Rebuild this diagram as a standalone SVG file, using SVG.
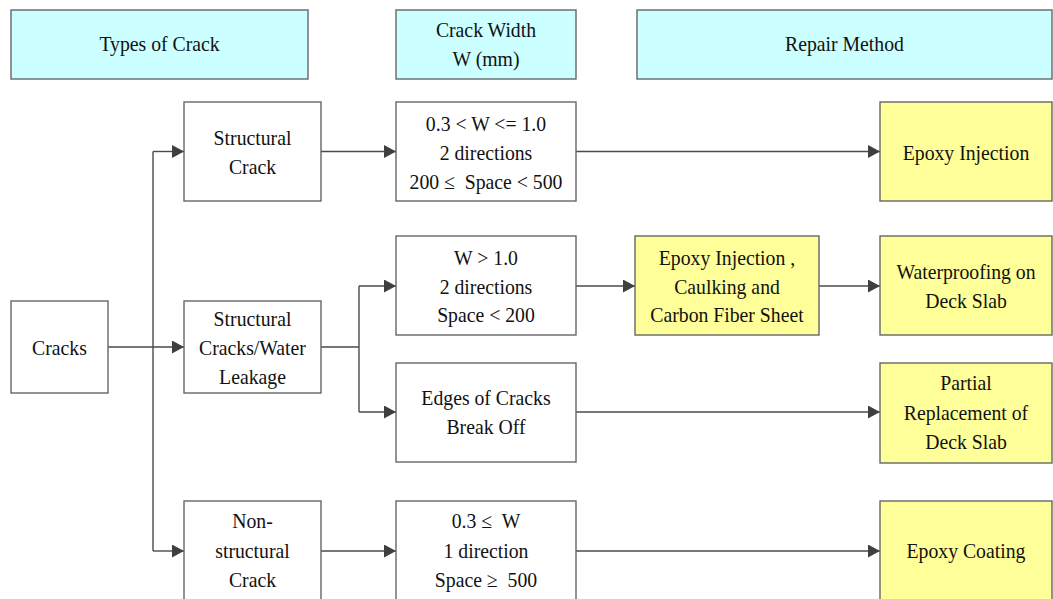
<svg xmlns="http://www.w3.org/2000/svg" width="1053" height="599" viewBox="0 0 1053 599">
  <defs>
    <marker id="arrow" markerUnits="userSpaceOnUse" markerWidth="12" markerHeight="13" refX="12" refY="6.5" orient="auto">
      <path d="M0,0 L12,6.5 L0,13 z" fill="#3f3f3f"/>
    </marker>
    <style>
      .box { stroke: #666666; stroke-width: 1.4; }
      .hdr { fill: #ccffff; }
      .plain { fill: #ffffff; }
      .repair { fill: #ffff99; }
      text { font-family: "Liberation Serif", "Times New Roman", serif; font-size: 21px; fill: #111111; text-anchor: middle;
             transform-box: fill-box; transform-origin: center; transform: scaleX(0.94); }
      .conn path { fill: none; stroke: #4a4a4a; stroke-width: 1.4; }
      .conn path.arr { marker-end: url(#arrow); }
    </style>
  </defs>

  <rect width="1053" height="599" fill="#ffffff"/>

  <!-- column headers -->
  <g id="hdr-types">
    <rect class="box hdr" x="11" y="10" width="297" height="69"/>
    <text x="159.5" y="51">Types of Crack</text>
  </g>
  <g id="hdr-width">
    <rect class="box hdr" x="396" y="10" width="180" height="69"/>
    <text x="486" y="37">Crack Width</text>
    <text x="486" y="66">W (mm)</text>
  </g>
  <g id="hdr-repair">
    <rect class="box hdr" x="637" y="10" width="415" height="69"/>
    <text x="844.5" y="51">Repair Method</text>
  </g>

  <!-- connectors -->
  <g id="connectors" class="conn">
    <path d="M108,347 H184" class="arr"/>
    <path d="M153,151.5 V551"/>
    <path d="M153,151.5 H184" class="arr"/>
    <path d="M153,551 H184" class="arr"/>
    <path d="M321,151.5 H396" class="arr"/>
    <path d="M576,151.5 H880" class="arr"/>
    <path d="M321,347 H359 M359,286 V412"/>
    <path d="M359,286 H396" class="arr"/>
    <path d="M359,412 H396" class="arr"/>
    <path d="M576,286 H635" class="arr"/>
    <path d="M819,286 H880" class="arr"/>
    <path d="M576,412 H880" class="arr"/>
    <path d="M321,551 H396" class="arr"/>
    <path d="M576,551 H880" class="arr"/>
  </g>

  <!-- crack categories -->
  <g id="cracks">
    <rect class="box plain" x="11" y="301" width="97" height="92"/>
    <text x="59.5" y="355">Cracks</text>
  </g>
  <g id="structural">
    <rect class="box plain" x="184" y="102" width="137" height="99"/>
    <text x="252.5" y="145">Structural</text>
    <text x="252.5" y="174">Crack</text>
  </g>
  <g id="structural-water">
    <rect class="box plain" x="184" y="301" width="137" height="92"/>
    <text x="252.5" y="326">Structural</text>
    <text x="252.5" y="355">Cracks/Water</text>
    <text x="252.5" y="384">Leakage</text>
  </g>
  <g id="non-structural">
    <rect class="box plain" x="184" y="501" width="137" height="100"/>
    <text x="252.5" y="528">Non-</text>
    <text x="252.5" y="558">structural</text>
    <text x="252.5" y="587">Crack</text>
  </g>

  <!-- crack width conditions -->
  <g id="width-mid">
    <rect class="box plain" x="396" y="102" width="180" height="99"/>
    <text x="486" y="131">0.3 &lt; W &lt;= 1.0</text>
    <text x="486" y="160.5">2 directions</text>
    <text x="486" y="189">200 ≤&#160; Space &lt; 500</text>
  </g>
  <g id="width-wide">
    <rect class="box plain" x="396" y="236" width="180" height="99"/>
    <text x="486" y="265">W &gt; 1.0</text>
    <text x="486" y="294">2 directions</text>
    <text x="486" y="322.5">Space &lt; 200</text>
  </g>
  <g id="edges-break">
    <rect class="box plain" x="396" y="363" width="180" height="99"/>
    <text x="486" y="405">Edges of Cracks</text>
    <text x="486" y="434">Break Off</text>
  </g>
  <g id="width-narrow">
    <rect class="box plain" x="396" y="501" width="180" height="100"/>
    <text x="486" y="528">0.3 ≤&#160; W</text>
    <text x="486" y="558">1 direction</text>
    <text x="486" y="587">Space ≥&#160; 500</text>
  </g>

  <!-- repair methods -->
  <g id="caulking">
    <rect class="box repair" x="635" y="236" width="184" height="99"/>
    <text x="727" y="265">Epoxy Injection ,</text>
    <text x="727" y="294">Caulking and</text>
    <text x="727" y="322.5">Carbon Fiber Sheet</text>
  </g>
  <g id="epoxy-injection">
    <rect class="box repair" x="880" y="102" width="172" height="99"/>
    <text x="966" y="160">Epoxy Injection</text>
  </g>
  <g id="waterproofing">
    <rect class="box repair" x="880" y="236" width="172" height="99"/>
    <text x="966" y="279">Waterproofing on</text>
    <text x="966" y="308">Deck Slab</text>
  </g>
  <g id="partial-replacement">
    <rect class="box repair" x="880" y="363" width="172" height="100"/>
    <text x="966" y="390">Partial</text>
    <text x="966" y="420">Replacement of</text>
    <text x="966" y="449">Deck Slab</text>
  </g>
  <g id="epoxy-coating">
    <rect class="box repair" x="880" y="501" width="172" height="100"/>
    <text x="966" y="558">Epoxy Coating</text>
  </g>
</svg>
